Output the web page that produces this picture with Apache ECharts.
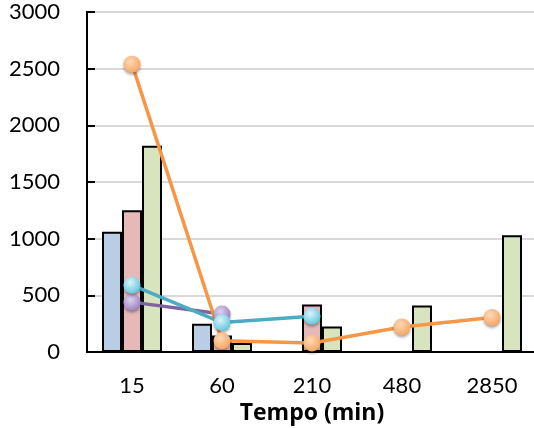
<!DOCTYPE html>
<html>
<head>
<meta charset="utf-8">
<script src="https://cdn.jsdelivr.net/npm/echarts@6/dist/echarts.min.js"></script>
<style>
  html, body { margin: 0; padding: 0; background: #fff; }
  #chart { width: 534px; height: 428px; }
</style>
</head>
<body>
<div id="chart"></div>
<script>
// Time points (minutes)
const categories = ['15', '60', '210', '480', '2850'];

// Bar series
const blueBars  = [1060, 250, null, null, null];
const pinkBars  = [1250, 145, 420, null, null];
const greenBars = [1820, 80, 225, 410, 1030];

// Line series
const purpleLine = [440, 335, null, null, null];
const cyanLine   = [590, 260, 315, null, null];
const orangeLine = [2540, 100, 80, 220, 305];

// Y axis ticks
const yMin = 0, yMax = 3000, yStep = 500;

const FONT = 'Lato';

function glossy(light, base) {
  return new echarts.graphic.RadialGradient(0.4, 0.35, 0.7, [
    { offset: 0, color: light },
    { offset: 1, color: base }
  ]);
}

function barSeries(data, color) {
  return {
    type: 'bar',
    data: data,
    barWidth: 20,
    barGap: '0%',
    itemStyle: { color: color, borderColor: '#000', borderWidth: 2 }
  };
}

function lineSeries(data, color, light, markerBase) {
  return {
    type: 'line',
    data: data,
    symbol: 'circle',
    symbolSize: 17,
    showSymbol: true,
    connectNulls: false,
    lineStyle: { color: color, width: 3.5 },
    itemStyle: {
      color: glossy(light, markerBase),
      borderWidth: 0,
      shadowBlur: 3,
      shadowColor: 'rgba(0,0,0,0.35)',
      shadowOffsetY: 2
    },
    z: 3
  };
}

const chart = echarts.init(document.getElementById('chart'), null, { renderer: 'canvas' });

chart.setOption({
  animation: false,
  backgroundColor: '#fff',
  grid: {
    left: 87, top: 12, width: 450, height: 340,
    show: true, borderColor: '#000', borderWidth: 2,
    containLabel: false,
    outerBoundsMode: 'none'
  },
  xAxis: {
    type: 'category',
    data: categories,
    axisLine: { lineStyle: { color: '#000', width: 2 } },
    axisTick: { show: false },
    axisLabel: { color: '#000', fontFamily: FONT, fontSize: 22, margin: 23 },
    name: 'Tempo (min)',
    nameLocation: 'middle',
    nameGap: 48,
    nameTextStyle: { color: '#000', fontFamily: 'Open Sans', fontWeight: 'bold', fontSize: 23 }
  },
  yAxis: {
    type: 'value',
    min: yMin, max: yMax, interval: yStep,
    axisLine: { show: true, lineStyle: { color: '#000', width: 2 } },
    axisTick: { show: true, inside: true, length: 8, lineStyle: { color: '#000', width: 2 } },
    axisLabel: {
      color: '#000', fontFamily: FONT, fontSize: 22, margin: 27,
      padding: [7, 0, 0, 0],
      formatter: function (v) { return String(v); }
    },
    splitLine: { show: true, lineStyle: { color: '#d9d9d9', width: 2 } }
  },
  series: [
    barSeries(blueBars, '#b9cde5'),
    barSeries(pinkBars, '#e6b9b8'),
    barSeries(greenBars, '#d7e4bd'),
    lineSeries(purpleLine, '#8064a2', '#ddd0ee', '#9a80bf'),
    lineSeries(cyanLine, '#4bacc6', '#d8f4fb', '#5fc3dc'),
    lineSeries(orangeLine, '#f79646', '#fdd9b8', '#f5a45e')
  ]
});
</script>
</body>
</html>
